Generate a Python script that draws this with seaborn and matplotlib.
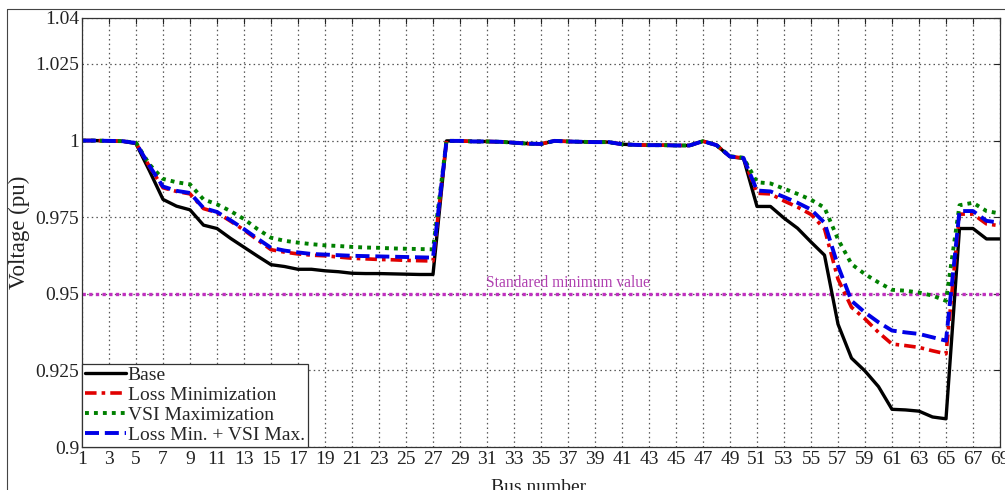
import numpy as np
import pandas as pd
import matplotlib
matplotlib.use("Agg")
import matplotlib.pyplot as plt
from matplotlib.lines import Line2D
import seaborn as sns

# ---------------- data ----------------
buses = list(range(1, 70))

base = [1.0000, 1.0000, 0.9999, 0.9998, 0.9990, 0.9901, 0.9808, 0.9786, 0.9774, 0.9724,
        0.9713, 0.9681, 0.9652, 0.9623, 0.9595, 0.9589, 0.9580, 0.9580, 0.9575, 0.9572,
        0.9567, 0.9566, 0.9566, 0.9565, 0.9564, 0.9563, 0.9563,
        0.9999, 0.9999, 0.9997, 0.9997, 0.9996, 0.9993, 0.9990, 0.9989,
        0.9999, 0.9997, 0.9996, 0.9995, 0.9995, 0.9988, 0.9986, 0.9985, 0.9985, 0.9984, 0.9984,
        0.9998, 0.9985, 0.9947, 0.9942,
        0.9785, 0.9785, 0.9747, 0.9714, 0.9669, 0.9626, 0.9401, 0.9290, 0.9248, 0.9197,
        0.9123, 0.9121, 0.9117, 0.9098, 0.9092,
        0.9713, 0.9713, 0.9679, 0.9679]

loss_min = [1.0000, 1.0000, 0.9999, 0.9998, 0.9992, 0.9915, 0.9846, 0.9834, 0.9826, 0.9778,
            0.9765, 0.9737, 0.9708, 0.9676, 0.9644, 0.9636, 0.9630, 0.9626, 0.9624, 0.9620,
            0.9616, 0.9614, 0.9612, 0.9611, 0.9609, 0.9608, 0.9607,
            0.9999, 0.9999, 0.9997, 0.9997, 0.9996, 0.9993, 0.9990, 0.9989,
            0.9999, 0.9997, 0.9996, 0.9995, 0.9995, 0.9988, 0.9986, 0.9985, 0.9985, 0.9984, 0.9984,
            0.9998, 0.9985, 0.9948, 0.9943,
            0.9828, 0.9826, 0.9803, 0.9783, 0.9759, 0.9712, 0.9548, 0.9456, 0.9418, 0.9374,
            0.9336, 0.9331, 0.9325, 0.9314, 0.9304,
            0.9760, 0.9760, 0.9728, 0.9722]

vsi_max = [1.0000, 1.0000, 0.9999, 0.9998, 0.9993, 0.9922, 0.9875, 0.9864, 0.9857, 0.9808,
           0.9792, 0.9770, 0.9744, 0.9711, 0.9683, 0.9673, 0.9667, 0.9662, 0.9658, 0.9656,
           0.9653, 0.9651, 0.9650, 0.9648, 0.9647, 0.9646, 0.9645,
           0.9999, 0.9999, 0.9997, 0.9997, 0.9996, 0.9993, 0.9990, 0.9989,
           0.9999, 0.9997, 0.9996, 0.9995, 0.9995, 0.9988, 0.9986, 0.9985, 0.9985, 0.9984, 0.9984,
           0.9998, 0.9985, 0.9949, 0.9944,
           0.9864, 0.9860, 0.9843, 0.9826, 0.9807, 0.9781, 0.9678, 0.9597, 0.9564, 0.9537,
           0.9513, 0.9510, 0.9504, 0.9494, 0.9477,
           0.9789, 0.9797, 0.9770, 0.9762]

combined = [1.0000, 1.0000, 0.9999, 0.9998, 0.9992, 0.9917, 0.9850, 0.9836, 0.9829, 0.9780,
            0.9767, 0.9740, 0.9711, 0.9680, 0.9650, 0.9641, 0.9635, 0.9630, 0.9628, 0.9626,
            0.9624, 0.9623, 0.9622, 0.9621, 0.9620, 0.9619, 0.9618,
            0.9999, 0.9999, 0.9997, 0.9997, 0.9996, 0.9993, 0.9990, 0.9989,
            0.9999, 0.9997, 0.9996, 0.9995, 0.9995, 0.9988, 0.9986, 0.9985, 0.9985, 0.9984, 0.9984,
            0.9998, 0.9985, 0.9948, 0.9943,
            0.9837, 0.9834, 0.9816, 0.9797, 0.9775, 0.9732, 0.9591, 0.9477, 0.9439, 0.9407,
            0.9380, 0.9374, 0.9369, 0.9358, 0.9347,
            0.9770, 0.9770, 0.9738, 0.9732]

series_names = ["Base", "Loss Minimization", "VSI Maximization", "Loss Min. + VSI Max."]
min_voltage = 0.95
min_label = "Standared minimum value"
x_ticks = list(range(1, 70, 2))
y_ticks = [0.9, 0.925, 0.95, 0.975, 1.0, 1.025, 1.04]
y_tick_labels = ["0.9", "0.925", "0.95", "0.975", "1", "1.025", "1.04"]

# ---------------- style ----------------
sns.set_theme(style="white")
plt.rcParams["font.family"] = ["Liberation Serif", "DejaVu Serif"]
plt.rcParams["axes.edgecolor"] = "#333333"
plt.rcParams["axes.linewidth"] = 0.9

fig = plt.figure(figsize=(10.05, 4.9), dpi=100)
ax = fig.add_axes([82 / 1005, 43 / 490, 918 / 1005, 429 / 490])

styles = [
    dict(color="black", lw=2.4, linestyle="-"),
    dict(color="#e00000", lw=2.6, linestyle=(0, (3.2, 1.4, 1.0, 1.4))),
    dict(color="#008000", lw=2.8, linestyle=(0, (1.0, 1.3))),
    dict(color="#0000e6", lw=2.8, linestyle=(0, (3.6, 1.5))),
]

for name, vals, st in zip(series_names, [base, loss_min, vsi_max, combined], styles):
    df = pd.DataFrame({"Bus": buses, "V": vals})
    sns.lineplot(data=df, x="Bus", y="V", ax=ax, label=name, color=st["color"],
                 linewidth=st["lw"], linestyle=st["linestyle"], dash_capstyle="butt")

ax.axhline(min_voltage, color="#c030c0", lw=2.4, linestyle=(0, (1.0, 1.0)), zorder=1)
ax.text(37.0, min_voltage + 0.0036, min_label, color="#b040b0", fontsize=11.2,
        ha="center", va="center")

ax.set_xlim(1, 69)
ax.set_ylim(0.9, 1.04)
ax.set_xticks(x_ticks)
ax.set_xticklabels([str(t) for t in x_ticks])
ax.set_yticks(y_ticks)
ax.set_yticklabels(y_tick_labels)
ax.tick_params(axis="both", direction="in", length=4, width=0.8, labelsize=14,
               colors="#222222", top=True, right=True)
ax.tick_params(axis="y", pad=2)
ax.tick_params(axis="x", pad=3)
ax.grid(True, linestyle=(0, (1.2, 2.5)), color="#555555", linewidth=0.9)
for s in ax.spines.values():
    s.set_visible(True)
    s.set_color("#333333")

ax.set_xlabel("Bus number", fontsize=14, color="#222222")
ax.set_ylabel("Voltage (pu)", fontsize=16.5, color="#222222")
ax.xaxis.set_label_coords(0.497, -0.074)
ax.yaxis.set_label_coords(-0.057, 0.5)

leg = ax.legend(loc="lower left", borderaxespad=0, fontsize=14, frameon=True,
                fancybox=False, handlelength=2.1, handletextpad=0.1, labelspacing=0.12,
                borderpad=0.15, framealpha=1)
leg.get_frame().set_edgecolor("#333333")
leg.get_frame().set_linewidth(0.9)

# outer image frame
fig.add_artist(Line2D([7 / 1005, 7 / 1005], [0, 1 - 9 / 490], transform=fig.transFigure,
                      color="#444444", lw=0.8))
fig.add_artist(Line2D([7 / 1005, 1], [1 - 9 / 490, 1 - 9 / 490], transform=fig.transFigure,
                      color="#444444", lw=0.8))

fig.savefig("out.png", dpi=100)
